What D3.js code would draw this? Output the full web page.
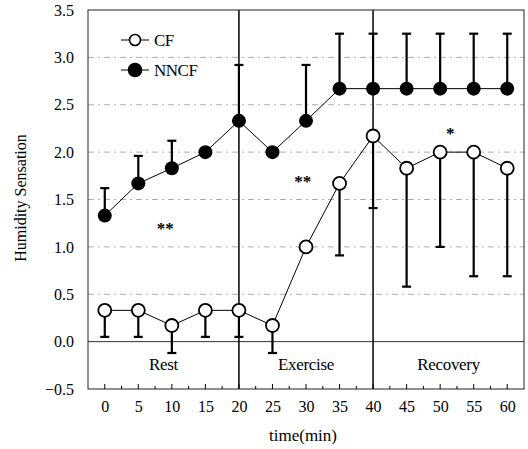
<!DOCTYPE html>
<html><head><meta charset="utf-8">
<script src="https://cdn.jsdelivr.net/npm/d3@7"></script>
<style>body{margin:0;background:#fff}svg{display:block}text{font-family:"Liberation Serif","DejaVu Serif",serif}</style>
</head><body><svg id="c" width="528" height="449"></svg>
<script>
const times = [0,5,10,15,20,25,30,35,40,45,50,55,60];
const cf = [0.33,0.33,0.17,0.33,0.33,0.17,1.0,1.67,2.17,1.83,2.0,2.0,1.83];
const cfLow = [0.05,0.05,-0.12,0.05,0.05,-0.12,null,0.91,1.41,0.58,1.0,0.69,0.69];
const nncf = [1.33,1.67,1.83,2.0,2.33,2.0,2.33,2.67,2.67,2.67,2.67,2.67,2.67];
const nncfHigh = [1.62,1.96,2.12,null,2.92,null,2.92,3.25,3.25,3.25,3.25,3.25,3.25];
const yTicks = [-0.5,0.0,0.5,1.0,1.5,2.0,2.5,3.0,3.5];
const gridVals = [0.5,1.0,1.5,2.0,2.5,3.0];
const phases = [{name:"Rest",from:-2.5,to:20},{name:"Exercise",from:20,to:40},{name:"Recovery",from:40,to:62.5}];
const sig = [{t:9,v:1.2,s:"**"},{t:29.5,v:1.7,s:"**"},{t:51.5,v:2.2,s:"*"}];

const svg = d3.select("#c");
const L=88,R=524,T=10,B=389;
const x = d3.scaleLinear().domain([-2.5,62.5]).range([L,R]);
const y = d3.scaleLinear().domain([-0.5,3.5]).range([B,T]);

// grid
svg.append("g").selectAll("line").data(gridVals).join("line")
  .attr("x1",L).attr("x2",R).attr("y1",d=>y(d)).attr("y2",d=>y(d))
  .attr("stroke","#999").attr("stroke-width",0.8).attr("stroke-dasharray","6,4,2,4");
// zero line
svg.append("line").attr("x1",L).attr("x2",R).attr("y1",y(0)).attr("y2",y(0)).attr("stroke","#333").attr("stroke-width",1);
// phase separators
svg.append("g").selectAll("line").data([20,40]).join("line")
  .attr("x1",d=>x(d)).attr("x2",d=>x(d)).attr("y1",T).attr("y2",B)
  .attr("stroke","#000").attr("stroke-width",1.5);
// frame
svg.append("rect").attr("x",L).attr("y",T).attr("width",R-L).attr("height",B-T)
  .attr("fill","none").attr("stroke","#222").attr("stroke-width",1);

// bottom axis
const xAxis = d3.axisBottom(x).tickValues(times).tickSize(0).tickPadding(12).tickFormat(d3.format("d"));
const gx = svg.append("g").attr("transform",`translate(0,${B})`).call(xAxis);
gx.select(".domain").remove();
gx.selectAll("text").attr("font-size",16).attr("fill","#000").attr("font-family","Liberation Serif");
// inward ticks
const minor = d3.range(-2.5,62.6,2.5).filter(d=>d>-2.5 && d<62.5);
svg.append("g").selectAll("line").data(minor).join("line")
  .attr("x1",d=>x(d)).attr("x2",d=>x(d)).attr("y1",B).attr("y2",d=>B-(d%5===0?5:3))
  .attr("stroke","#000").attr("stroke-width",1);

// left axis
const yAxis = d3.axisLeft(y).tickValues(yTicks).tickSize(0).tickPadding(14).tickFormat(d3.format(".1f"));
const gy = svg.append("g").attr("transform",`translate(${L},0)`).call(yAxis);
gy.select(".domain").remove();
gy.selectAll("text").attr("font-size",16).attr("fill","#000").attr("font-family","Liberation Serif")
  .text(d=>d<0?"\u22120.5":d3.format(".1f")(d));

// axis titles
svg.append("text").attr("x",303).attr("y",441).attr("text-anchor","middle").attr("font-size",17).text("time(min)");
svg.append("text").attr("transform",`translate(26,198) rotate(-90)`).attr("text-anchor","middle").attr("font-size",16).text("Humidity Sensation");

// phase labels
svg.append("g").selectAll("text").data(phases).join("text")
  .attr("x",d=>x((d.from+d.to)/2)).attr("y",y(-0.25)+5).attr("text-anchor","middle").attr("font-size",17).attr("letter-spacing",-0.3).text(d=>d.name);

// error bars
const cap=4.5;
function ebars(vals,ends){
  const g=svg.append("g");
  const data=times.map((t,i)=>({t,v:vals[i],e:ends[i]})).filter(d=>d.e!==null);
  g.selectAll("line.v").data(data).join("line").attr("class","v")
    .attr("x1",d=>x(d.t)).attr("x2",d=>x(d.t)).attr("y1",d=>y(d.v)).attr("y2",d=>y(d.e))
    .attr("stroke","#000").attr("stroke-width",2.2);
  g.selectAll("line.c").data(data).join("line").attr("class","c")
    .attr("x1",d=>x(d.t)-cap).attr("x2",d=>x(d.t)+cap).attr("y1",d=>y(d.e)).attr("y2",d=>y(d.e))
    .attr("stroke","#000").attr("stroke-width",2.2);
}
ebars(nncf,nncfHigh);
ebars(cf,cfLow);

// lines
const line=d3.line().x((d,i)=>x(times[i])).y(d=>y(d));
svg.append("path").attr("d",line(nncf)).attr("fill","none").attr("stroke","#000").attr("stroke-width",1);
svg.append("path").attr("d",line(cf)).attr("fill","none").attr("stroke","#000").attr("stroke-width",1);

// markers
svg.append("g").selectAll("circle").data(nncf).join("circle")
  .attr("cx",(d,i)=>x(times[i])).attr("cy",d=>y(d)).attr("r",7).attr("fill","#000");
svg.append("g").selectAll("circle").data(cf).join("circle")
  .attr("cx",(d,i)=>x(times[i])).attr("cy",d=>y(d)).attr("r",6.5).attr("fill","#fff").attr("stroke","#000").attr("stroke-width",1.8);

// significance
svg.append("g").selectAll("text").data(sig).join("text")
  .attr("x",d=>x(d.t)).attr("y",d=>y(d.v)+6).attr("text-anchor","middle").attr("font-size",17).attr("font-weight","bold").text(d=>d.s);

// legend
const leg=[{name:"CF",fill:"#fff",yy:40},{name:"NNCF",fill:"#000",yy:70}];
const lg=svg.append("g");
leg.forEach(d=>{
  lg.append("line").attr("x1",121).attr("x2",149).attr("y1",d.yy).attr("y2",d.yy).attr("stroke","#000").attr("stroke-width",1);
  lg.append("circle").attr("cx",135).attr("cy",d.yy).attr("r",d.fill==="#fff"?5.5:6.5).attr("fill",d.fill).attr("stroke","#000").attr("stroke-width",1.6);
  lg.append("text").attr("x",154).attr("y",d.yy+6).attr("font-size",17).attr("letter-spacing",-0.5).text(d.name);
});
</script></body></html>
